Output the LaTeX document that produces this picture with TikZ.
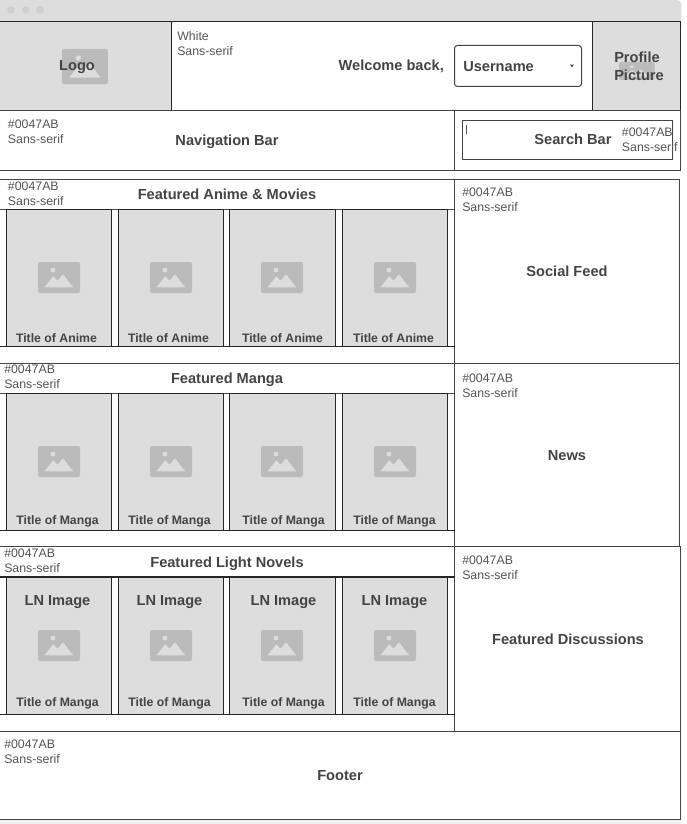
\documentclass[tikz,border=0pt]{standalone}
\usepackage{fontspec}
\setmainfont{Liberation Sans}
\definecolor{wire}{HTML}{444444}
\definecolor{ink}{HTML}{444444}
\definecolor{soft}{HTML}{555555}
\definecolor{panel}{HTML}{DDDDDD}
\definecolor{icon}{HTML}{BBBBBB}
\definecolor{dot}{HTML}{CFCFCF}
\definecolor{page}{HTML}{EEEEEE}
\newcommand{\bigtxt}{\fontsize{10.95pt}{13.5pt}\selectfont\bfseries}
\newcommand{\smalltxt}{\fontsize{9.25pt}{11.1pt}\selectfont}
\newcommand{\captxt}{\fontsize{9.2pt}{11pt}\selectfont\bfseries}
\newcommand{\picicon}[4]{% x y xscale yscale
  \begin{scope}[shift={(#1,#2)},x=#3*0.75pt,y=-#4*0.75pt]
    \fill[icon,rounded corners=1.5pt] (0,0) rectangle (42,31);
    \fill[panel] (15,8) ellipse[x radius=2.4,y radius=2.4];
    \fill[panel,rounded corners=0.5pt] (6.6,25.3) -- (15.3,14) -- (19.4,19) -- (25,12.2) -- (35.2,25.3) -- cycle;
  \end{scope}}
\tikzset{
  x=0.75pt,y=-0.75pt,
  box/.style={draw=wire,line width=0.75pt},
  dark/.style={draw=black!85,line width=0.75pt},
  labtwo/.style={inner sep=0pt,text=ink,font=\bigtxt},
  lab/.style={labtwo,text height=8.1pt,text depth=0pt},
  note/.style={inner sep=0pt,text=soft,font=\smalltxt,align=left,anchor=north west},
  captxt/.style={inner sep=0pt,text=ink,font=\captxt,text height=6.8pt,text depth=0pt},
  cardbox/.style={dark,fill=panel}
}
\begin{document}
\begin{tikzpicture}
\useasboundingbox (0,0) rectangle (686,824);
\fill[white] (0,0) rectangle (686,824);
\fill[page] (0,819) rectangle (681.3,824);
\fill[panel,rounded corners=3pt] (-6,0) -- (681.3,0) -- (681.3,30) -- (-6,30) -- cycle;
\fill[white] (0,22) rectangle (680.5,819);
\foreach \x in {11,26,40} \fill[dot] (\x,10) circle[radius=3.8];
% header
\draw[dark,fill=panel] (-2,21.5) rectangle (171.5,110.5);
\draw[dark,fill=panel] (592.5,21.5) rectangle (680.5,110.5);
\draw[dark] (171.5,21.5) -- (592.5,21.5);
\draw[box] (171.5,110.5) -- (592.5,110.5);
\picicon{62}{49}{1.095}{1.13}
\picicon{619}{62}{0.85}{0.58}
\node[lab] (logo) at (77,65) {Logo};
\node[labtwo,align=left] (profile) at (639,66) {Profile\\Picture};
\node[note] (hdrnote) at (177,31.5) {White\\Sans-serif};
\node[lab] (welcome) at (391.3,65) {Welcome back,};
\draw[box,rounded corners=2.2pt] (454.5,45.5) rectangle (581.5,86.5);
\node[lab,anchor=west] (user) at (463,66) {Username};
\fill[ink] (570,64.6) -- (573.8,64.6) -- (571.9,67.4) -- cycle;
% nav
\draw[box] (-2,110.5) rectangle (680.5,170.5);
\draw[box] (454.5,110.5) -- (454.5,170.5);
\node[note] (navnote) at (7.7,120) {\#0047AB\\Sans-serif};
\node[lab] (nav) at (227,140) {Navigation Bar};
\draw[box] (462.5,120.5) rectangle (672.5,159.5);
\draw[soft,line width=0.4pt] (466.5,125) -- (466.5,134);
\node[lab] (search) at (573,139) {Search Bar};
\node[note] (searchnote) at (621.7,128) {\#0047AB\\Sans-serif};
% section frames
\draw[box] (-2,179.5) rectangle (679.5,363.5);
\draw[box] (-2,363.5) rectangle (679.5,546.5);
\draw[box] (-2,546.5) rectangle (680.5,731.5);
\draw[box] (-2,731.5) rectangle (680.5,819.5);
\draw[box] (454.5,179.5) -- (454.5,731.5);
\foreach \t/\b in {209.5/346.5,393.5/530.5}{
  \draw[box] (-2,\t) -- (454.5,\t);
  \draw[dark] (-2,\b) -- (454.5,\b);
}
\draw[dark,line width=1.1pt] (-2,577) -- (454.5,577);
\draw[dark] (-2,714.5) -- (454.5,714.5);
% cards
\foreach \l/\r/\ix in {6.5/111.5/38,118.5/223.5/150,229.5/335.5/261,342.5/447.5/374}{
  \draw[cardbox] (\l,209.5) rectangle (\r,346.5);
  \draw[cardbox] (\l,393.5) rectangle (\r,530.5);
  \draw[cardbox] (\l,577.5) rectangle (\r,714.5);
  \picicon{\ix}{262}{1}{1}
  \picicon{\ix}{446}{1}{1}
  \picicon{\ix}{630}{1}{1}
}
\node[captxt] (a1) at (56.5,338) {Title of Anime};
\node[captxt] (a2) at (168.5,338) {Title of Anime};
\node[captxt] (a3) at (282.5,338) {Title of Anime};
\node[captxt] (a4) at (393.5,338) {Title of Anime};
\node[captxt] (m1) at (57.5,520) {Title of Manga};
\node[captxt] (m2) at (169.5,520) {Title of Manga};
\node[captxt] (m3) at (283.5,520) {Title of Manga};
\node[captxt] (m4) at (394.5,520) {Title of Manga};
\node[captxt] (n1) at (57.5,702) {Title of Manga};
\node[captxt] (n2) at (169.5,702) {Title of Manga};
\node[captxt] (n3) at (283.5,702) {Title of Manga};
\node[captxt] (n4) at (394.5,702) {Title of Manga};
\node[lab] (l1) at (57.5,600) {LN Image};
\node[lab] (l2) at (169.5,600) {LN Image};
\node[lab] (l3) at (283.5,600) {LN Image};
\node[lab] (l4) at (394.5,600) {LN Image};
% titles
\node[note] (an) at (7.7,182) {\#0047AB\\Sans-serif};
\node[lab] (at) at (227,194) {Featured Anime \& Movies};
\node[note] (mn) at (4,365) {\#0047AB\\Sans-serif};
\node[lab] (mt) at (227,378) {Featured Manga};
\node[note] (ln) at (4,549) {\#0047AB\\Sans-serif};
\node[lab] (lt) at (227,562) {Featured Light Novels};
\node[note] (sn) at (462,188) {\#0047AB\\Sans-serif};
\node[lab] (st) at (567,271) {Social Feed};
\node[note] (nn) at (462,374) {\#0047AB\\Sans-serif};
\node[lab] (nt) at (567,455) {News};
\node[note] (dn) at (462,556) {\#0047AB\\Sans-serif};
\node[lab] (dt) at (568,639) {Featured Discussions};
\node[note] (fn) at (4,740) {\#0047AB\\Sans-serif};
\node[lab] (ft) at (340,775) {Footer};
\end{tikzpicture}
\end{document}
